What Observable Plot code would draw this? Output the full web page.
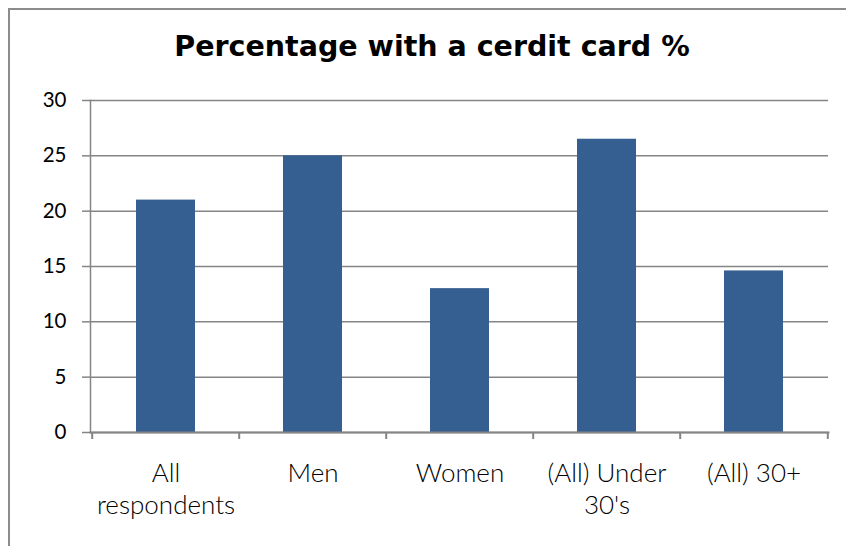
<!DOCTYPE html>
<html>
<head>
<meta charset="utf-8">
<script src="https://cdn.jsdelivr.net/npm/d3@7"></script>
<script src="https://cdn.jsdelivr.net/npm/@observablehq/plot@0.6"></script>
<style>
  html, body { margin: 0; padding: 0; background: #fff; overflow: hidden; }
  #wrap { position: relative; width: 846px; height: 546px; overflow: hidden; }
  #box { position: absolute; left: 8px; top: 8px; width: 860px; height: 560px; border: 2px solid #8c8c8c; box-sizing: border-box; }
  #title { position: absolute; left: 0; top: 30px; width: 864px; text-align: center;
           font-family: "DejaVu Sans", sans-serif; font-weight: bold; font-size: 28.5px; color: #000; }
  #chart { position: absolute; left: 0; top: 80px; }
</style>
</head>
<body>
<div id="wrap">
  <div id="box"></div>
  <div id="title">Percentage with a cerdit card %</div>
  <div id="chart"></div>
</div>
<script>
const categories = ["All respondents", "Men", "Women", "(All) Under 30's", "(All) 30+"];
const tickLabels = ["All\nrespondents", "Men", "Women", "(All) Under\n30's", "(All) 30+"];
const values = [21, 25, 13, 26.5, 14.6];
const yTicks = [0, 5, 10, 15, 20, 25, 30];

const data = categories.map((c, i) => ({category: c, value: values[i]}));

const W = 846, H = 466, mL = 90, mR = 18, mT = 20, mB = 114;
const step = (W - mL - mR) / categories.length;
const gray = "#858585";
const font = "Lato, sans-serif";

const plot = Plot.plot({
  width: W, height: H,
  marginLeft: mL, marginRight: mR, marginTop: mT, marginBottom: mB,
  style: {fontFamily: font, background: "transparent", color: "#000"},
  x: {type: "band", domain: categories, paddingInner: 0.6, paddingOuter: 0.3, align: 0.5},
  y: {domain: [0, 30]},
  marks: [
    Plot.ruleY(yTicks, {stroke: gray, strokeWidth: 1.5}),
    Plot.axisY(yTicks, {tickSize: 8, tickPadding: 16, stroke: gray, strokeWidth: 1.5, strokeOpacity: 1,
      fontSize: 20.5, fill: "#000", label: null}),
    Plot.barY(data, {x: "category", y: "value", fill: "#365F91", insetLeft: 0, insetRight: 0}),
    Plot.frame({anchor: "left", stroke: gray, strokeWidth: 1.5}),
    Plot.frame({anchor: "bottom", stroke: gray, strokeWidth: 2}),
    Plot.ruleX(categories, {x: d => d, y1: 0, y2: 0, dx: -step / 2, stroke: gray, strokeWidth: 2, insetBottom: -7}),
    Plot.ruleX([categories[categories.length - 1]], {x: d => d, y1: 0, y2: 0, dx: step / 2, stroke: gray, strokeWidth: 2, insetBottom: -7}),
    Plot.axisX({tickSize: 0, tickPadding: 27, fontSize: 26, fontWeight: 300, fill: "#000", lineHeight: 1.22,
      tickFormat: d => tickLabels[categories.indexOf(d)], label: null})
  ]
});
document.getElementById("chart").appendChild(plot);
</script>
</body>
</html>
